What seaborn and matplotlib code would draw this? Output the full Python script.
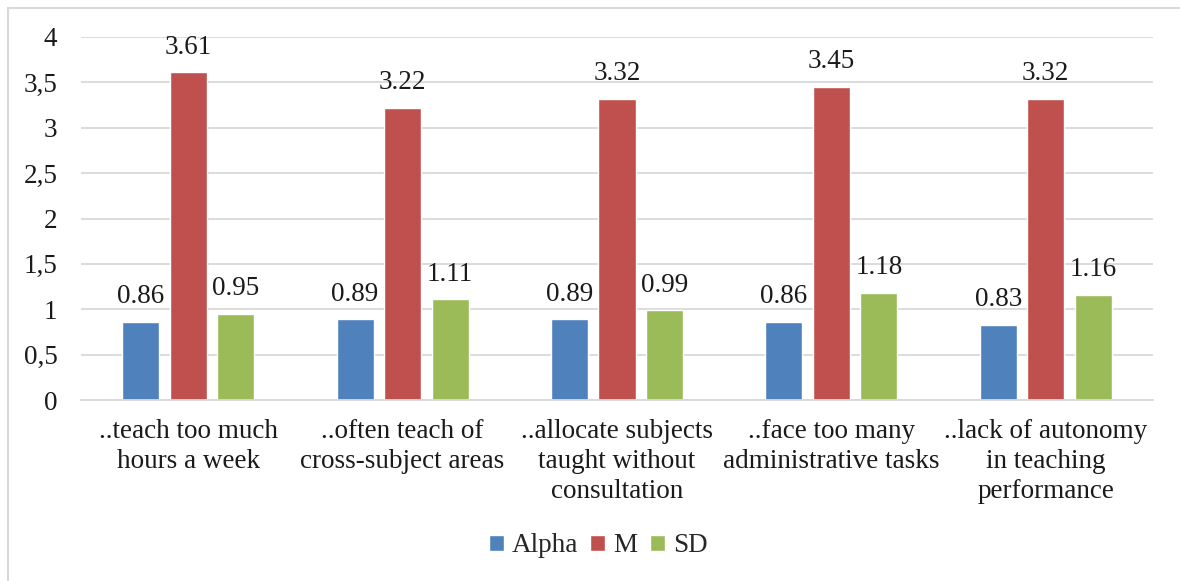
import matplotlib
matplotlib.use("Agg")
import matplotlib.pyplot as plt
from matplotlib.lines import Line2D
from matplotlib.ticker import FixedLocator, FuncFormatter
import seaborn as sns
import pandas as pd

categories = [
    "..teach too much\nhours a week",
    "..often teach of\ncross-subject areas",
    "..allocate subjects\ntaught without\nconsultation",
    "..face too many\nadministrative tasks",
    "..lack of autonomy\nin teaching\nperformance",
]
alpha_vals = [0.86, 0.89, 0.89, 0.86, 0.83]
m_vals = [3.61, 3.22, 3.32, 3.45, 3.32]
sd_vals = [0.95, 1.11, 0.99, 1.18, 1.16]
series_names = ["Alpha", "M", "SD"]
y_ticks = [0, 0.5, 1, 1.5, 2, 2.5, 3, 3.5, 4]

colors = ["#4F81BD", "#C0504D", "#9BBB59"]

rows = []
for name, vals in zip(series_names, [alpha_vals, m_vals, sd_vals]):
    for cat, v in zip(categories, vals):
        rows.append({"category": cat, "series": name, "value": v})
df = pd.DataFrame(rows)

sns.set_theme(style="white")
plt.rcParams["font.family"] = ["Liberation Serif", "DejaVu Serif"]

FS = 19.5
fig = plt.figure(figsize=(11.8, 5.81), dpi=100)
ax = fig.add_axes([81 / 1180, 1 - 400 / 581, (1153 - 81) / 1180, (400 - 37) / 581])

sns.barplot(data=df, x="category", y="value", hue="series", order=categories,
            hue_order=series_names, palette=colors, width=0.665, gap=0.22,
            saturation=1, ax=ax, legend=True, errorbar=None)

for container in ax.containers:
    ax.bar_label(container, fmt="%.2f", padding=9, fontsize=FS, color="#1a1a1a")

ax.set_ylim(0, 4)
ax.set_xlim(-0.5, len(categories) - 0.5)
ax.yaxis.set_major_locator(FixedLocator(y_ticks))
ax.yaxis.set_major_formatter(FuncFormatter(lambda v, p: f"{v:g}".replace(".", ",")))
ax.grid(axis="y", color="#d9d9d9", linewidth=1.3)
ax.set_axisbelow(True)
for s in ["top", "right", "left"]:
    ax.spines[s].set_visible(False)
ax.spines["bottom"].set_color("#d9d9d9")
ax.spines["bottom"].set_linewidth(1.3)
ax.tick_params(axis="y", length=0, labelsize=FS, pad=17, labelcolor="#1a1a1a")
ax.tick_params(axis="x", length=0, labelsize=FS, pad=14, labelcolor="#1a1a1a")
for lbl in ax.get_xticklabels():
    lbl.set_linespacing(1.25)
ax.set_xlabel("")
ax.set_ylabel("")

handles, labels = ax.get_legend_handles_labels()
ax.legend(handles, labels, loc="center", bbox_to_anchor=(598 / 1180, 1 - 546 / 581),
          bbox_transform=fig.transFigure, ncol=3, frameon=False, fontsize=FS,
          handlelength=0.55, handleheight=0.55, handletextpad=0.3, columnspacing=0.45)

# chart frame: top and left edges of the surrounding box
x0, y0 = 8 / 1180, 1 - 8 / 581
fig.add_artist(Line2D([x0, 1], [y0, y0], transform=fig.transFigure,
                      color="#d9d9d9", linewidth=1.5))
fig.add_artist(Line2D([x0, x0], [0, y0], transform=fig.transFigure,
                      color="#d9d9d9", linewidth=1.5))

fig.savefig("out.png", dpi=100)
